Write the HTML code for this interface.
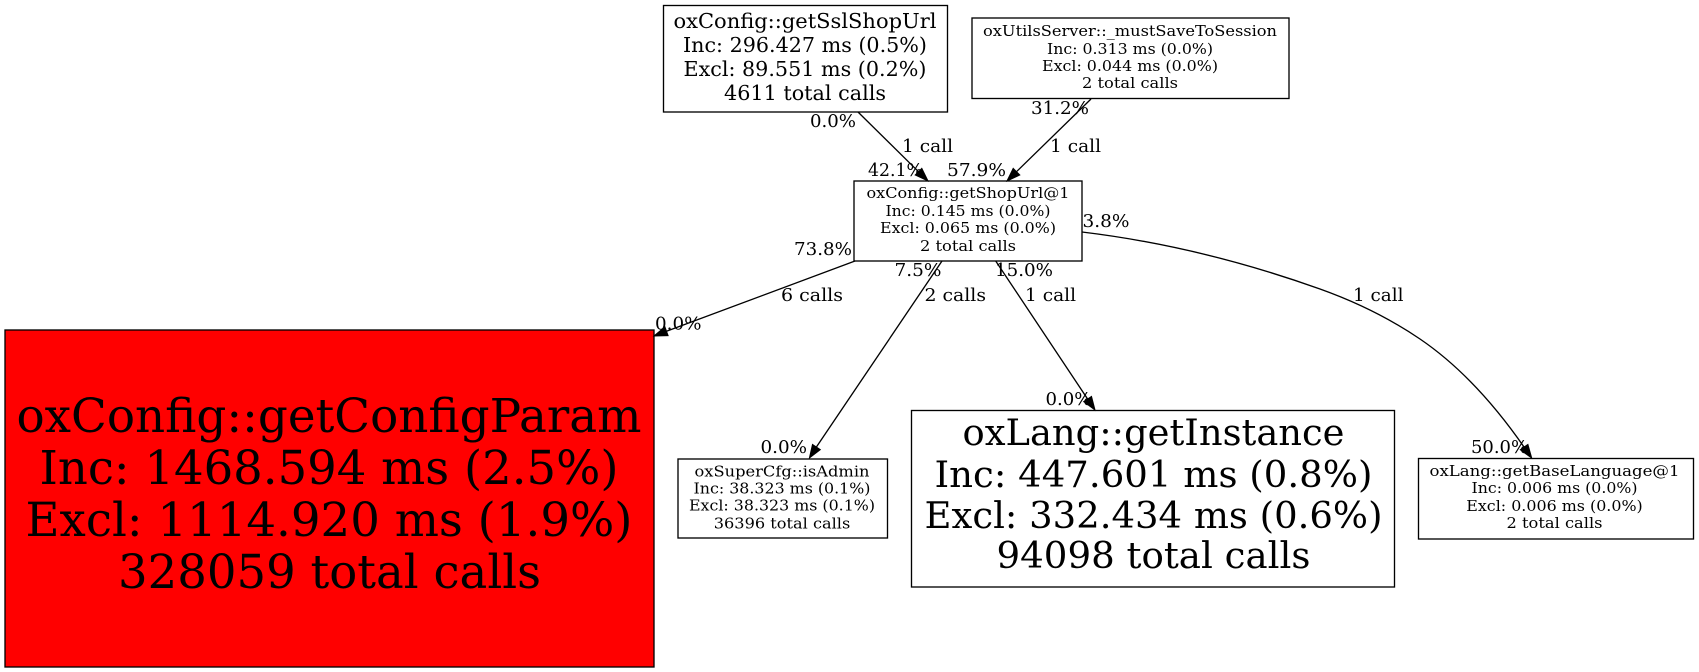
<!DOCTYPE html>
<html><head><meta charset="utf-8"><style>
html,body{margin:0;padding:0;background:#fff;width:1699px;height:672px;overflow:hidden}
svg{display:block}
text{font-family:"DejaVu Serif","Liberation Serif",serif;fill:#000}
.m{text-anchor:middle}
.e{font-size:18px}
.s{font-size:15px}
rect{stroke:#000;stroke-width:1.33;fill:#fff}
.l{fill:none;stroke:#000;stroke-width:1.33}
polygon{fill:#000;stroke:#000;stroke-width:1}
</style></head><body>
<svg width="1699" height="672" viewBox="0 0 1699 672" xmlns="http://www.w3.org/2000/svg">
<rect x="663.5" y="5.5" width="284" height="106.5"/>
<rect x="972" y="18" width="317" height="80.5"/>
<rect x="854" y="181" width="228" height="80"/>
<rect x="5" y="330" width="649" height="337" style="fill:#f00"/>
<rect x="678" y="459" width="209.5" height="79"/>
<rect x="911.5" y="410.5" width="483" height="176.5"/>
<rect x="1418.5" y="458.5" width="275" height="80.5"/>

<path class="l" d="M858,112L918.5,171.7"/>
<polygon points="928,181 921.8,168.4 915.2,175"/>
<path class="l" d="M1091,99L1016.5,171.7"/>
<polygon points="1007,181 1019.8,175 1013.2,168.4"/>
<path class="l" d="M855,261L666.5,331.3"/>
<polygon points="654,336 668.1,335.7 664.9,326.9"/>
<path class="l" d="M942,261L816.4,447"/>
<polygon points="809.4,458 820.3,449.6 812.5,444.4"/>
<path class="l" d="M995.7,261L1087.6,399"/>
<polygon points="1095,410 1091.5,396.4 1083.7,401.6"/>
<path class="l" d="M1082,232C1161,241.5 1241,260.8 1320,289C1353,300.8 1387,316.6 1420,339C1455,362.8 1489.4,397.2 1524.1,447.1"/>
<polygon points="1531.7,458 1527.9,444.4 1520.3,449.8"/>

<g style="font-size:20.6px">
<text class="m" x="805" y="28" textLength="263" lengthAdjust="spacingAndGlyphs">oxConfig::getSslShopUrl</text>
<text class="m" x="805" y="52" textLength="244" lengthAdjust="spacingAndGlyphs">Inc: 296.427 ms (0.5%)</text>
<text class="m" x="805" y="76" textLength="243" lengthAdjust="spacingAndGlyphs">Excl: 89.551 ms (0.2%)</text>
<text class="m" x="805" y="100" textLength="162" lengthAdjust="spacingAndGlyphs">4611 total calls</text>
</g>
<g class="s">
<text class="m" x="1130" y="36" textLength="294" lengthAdjust="spacingAndGlyphs">oxUtilsServer::_mustSaveToSession</text>
<text class="m" x="1130" y="54" textLength="166" lengthAdjust="spacingAndGlyphs">Inc: 0.313 ms (0.0%)</text>
<text class="m" x="1130" y="71" textLength="176" lengthAdjust="spacingAndGlyphs">Excl: 0.044 ms (0.0%)</text>
<text class="m" x="1130" y="88" textLength="96" lengthAdjust="spacingAndGlyphs">2 total calls</text>
<text class="m" x="968" y="198" textLength="203" lengthAdjust="spacingAndGlyphs">oxConfig::getShopUrl@1</text>
<text class="m" x="968" y="216" textLength="165" lengthAdjust="spacingAndGlyphs">Inc: 0.145 ms (0.0%)</text>
<text class="m" x="968" y="233" textLength="176" lengthAdjust="spacingAndGlyphs">Excl: 0.065 ms (0.0%)</text>
<text class="m" x="968" y="251" textLength="96" lengthAdjust="spacingAndGlyphs">2 total calls</text>
<text class="m" x="782" y="476.5" textLength="175" lengthAdjust="spacingAndGlyphs">oxSuperCfg::isAdmin</text>
<text class="m" x="782" y="493.5" textLength="177" lengthAdjust="spacingAndGlyphs">Inc: 38.323 ms (0.1%)</text>
<text class="m" x="782" y="510.5" textLength="186" lengthAdjust="spacingAndGlyphs">Excl: 38.323 ms (0.1%)</text>
<text class="m" x="782" y="528.5" textLength="136.5" lengthAdjust="spacingAndGlyphs">36396 total calls</text>
<text class="m" x="1554.5" y="476" textLength="250" lengthAdjust="spacingAndGlyphs">oxLang::getBaseLanguage@1</text>
<text class="m" x="1554.5" y="493" textLength="166" lengthAdjust="spacingAndGlyphs">Inc: 0.006 ms (0.0%)</text>
<text class="m" x="1554.5" y="511" textLength="176.5" lengthAdjust="spacingAndGlyphs">Excl: 0.006 ms (0.0%)</text>
<text class="m" x="1554.5" y="528" textLength="96" lengthAdjust="spacingAndGlyphs">2 total calls</text>
</g>
<g style="font-size:47px">
<text class="m" x="329" y="432" textLength="625" lengthAdjust="spacingAndGlyphs">oxConfig::getConfigParam</text>
<text class="m" x="329" y="484" textLength="579" lengthAdjust="spacingAndGlyphs">Inc: 1468.594 ms (2.5%)</text>
<text class="m" x="329" y="536" textLength="607" lengthAdjust="spacingAndGlyphs">Excl: 1114.920 ms (1.9%)</text>
<text class="m" x="329.5" y="588" textLength="423" lengthAdjust="spacingAndGlyphs">328059 total calls</text>
</g>
<g style="font-size:36.5px">
<text class="m" x="1153.5" y="445" textLength="382" lengthAdjust="spacingAndGlyphs">oxLang::getInstance</text>
<text class="m" x="1153.5" y="487" textLength="438" lengthAdjust="spacingAndGlyphs">Inc: 447.601 ms (0.8%)</text>
<text class="m" x="1153.5" y="528" textLength="458" lengthAdjust="spacingAndGlyphs">Excl: 332.434 ms (0.6%)</text>
<text class="m" x="1153.5" y="568" textLength="314" lengthAdjust="spacingAndGlyphs">94098 total calls</text>
</g>
<g class="e">
<text x="810" y="127" textLength="46" lengthAdjust="spacingAndGlyphs">0.0%</text>
<text x="902" y="152" textLength="51" lengthAdjust="spacingAndGlyphs">1 call</text>
<text x="868" y="176" textLength="55" lengthAdjust="spacingAndGlyphs">42.1%</text>
<text x="947" y="176" textLength="59" lengthAdjust="spacingAndGlyphs">57.9%</text>
<text x="1031" y="114" textLength="58" lengthAdjust="spacingAndGlyphs">31.2%</text>
<text x="1050" y="152" textLength="51" lengthAdjust="spacingAndGlyphs">1 call</text>
<text x="794" y="255" textLength="58" lengthAdjust="spacingAndGlyphs">73.8%</text>
<text x="894.5" y="276" textLength="47" lengthAdjust="spacingAndGlyphs">7.5%</text>
<text x="995" y="276" textLength="58" lengthAdjust="spacingAndGlyphs">15.0%</text>
<text x="1082.5" y="227" textLength="47" lengthAdjust="spacingAndGlyphs">3.8%</text>
<text x="781" y="301" textLength="62" lengthAdjust="spacingAndGlyphs">6 calls</text>
<text x="655" y="329.5" textLength="46.5" lengthAdjust="spacingAndGlyphs">0.0%</text>
<text x="760.5" y="453" textLength="46.5" lengthAdjust="spacingAndGlyphs">0.0%</text>
<text x="924.5" y="301" textLength="61.5" lengthAdjust="spacingAndGlyphs">2 calls</text>
<text x="1025" y="301" textLength="51" lengthAdjust="spacingAndGlyphs">1 call</text>
<text x="1353" y="301" textLength="50.5" lengthAdjust="spacingAndGlyphs">1 call</text>
<text x="1045.5" y="405" textLength="46" lengthAdjust="spacingAndGlyphs">0.0%</text>
<text x="1471" y="453" textLength="57" lengthAdjust="spacingAndGlyphs">50.0%</text>
</g>
</svg>
</body></html>
